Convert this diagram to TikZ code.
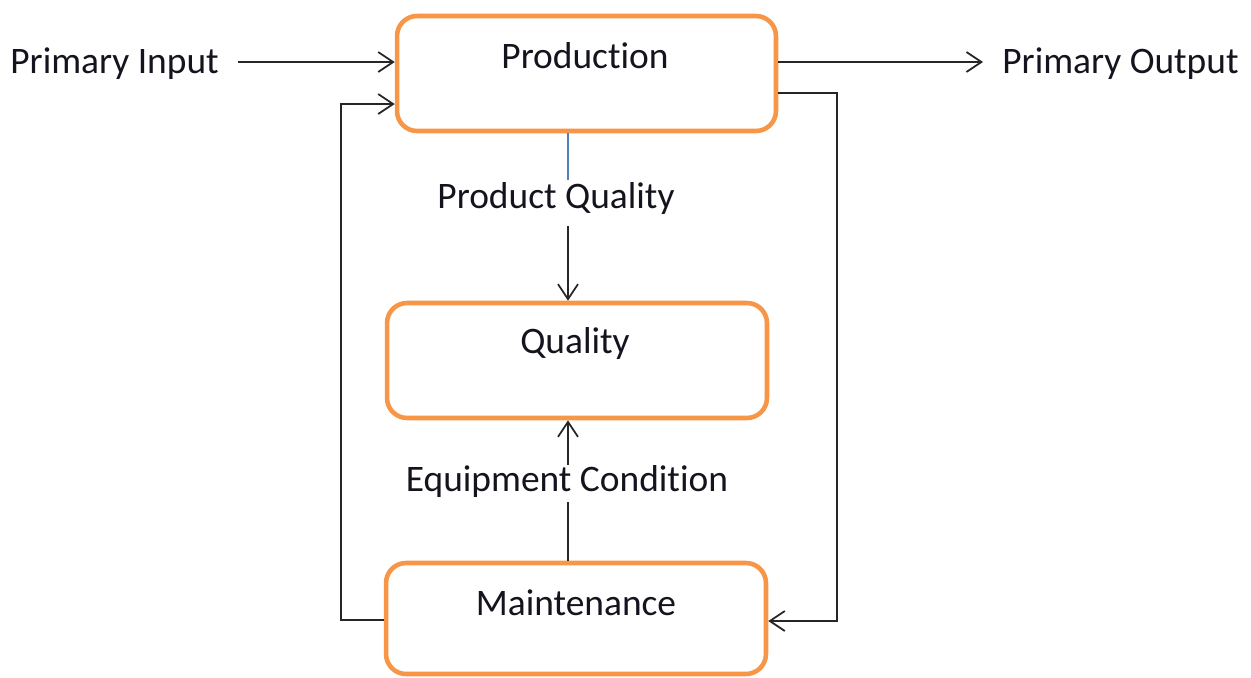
\documentclass[tikz,border=0pt]{standalone}
\usepackage{fontspec}
\setmainfont{Carlito}[RawFeature=-liga]
\usetikzlibrary{arrows.meta}
\definecolor{boxorange}{RGB}{247,150,70}
\definecolor{linkblue}{RGB}{79,129,189}
\definecolor{textdark}{RGB}{20,20,30}
\tikzset{
  stage/.style={draw=boxorange, line width=2.6pt, rounded corners=0.4cm,
    fill=white, inner sep=0pt},
  lbl/.style={inner sep=0pt, text=textdark,
    font=\fontsize{21.3}{25}\selectfont},
  arr/.style={draw=black!85, line width=1pt,
    -{Straight Barb[length=0.3cm,width=0.4cm,line width=1pt]}},
  plain/.style={draw=black!85, line width=1pt},
  bluelink/.style={draw=linkblue, line width=0.8pt},
}
\begin{document}
\begin{tikzpicture}[x=0.02cm, y=-0.02cm]
  \useasboundingbox (0,0) rectangle (1251,677);

  % process boxes
  \node[stage, minimum width=7.58cm, minimum height=2.3cm] (prod) at (586.5,73.5) {};
  \node[stage, minimum width=7.6cm, minimum height=2.3cm] (qual) at (577,360.5) {};
  \node[stage, minimum width=7.6cm, minimum height=2.22cm] (maint) at (576,618.5) {};

  % box captions
  \node[lbl, anchor=base] (prodT) at (585,68) {Production};
  \node[lbl, anchor=base] (qualT) at (575,353) {Quality};
  \node[lbl, anchor=base] (maintT) at (576,615) {Maintenance};

  % outside labels
  \node[lbl, anchor=base west] (pin) at (10,73) {Primary Input};
  \node[lbl, anchor=base west] (pout) at (1002,73) {Primary Output};
  \node[lbl, anchor=base] (pq) at (556,208) {Product Quality};
  \node[lbl, anchor=base] (ec) at (567,491) {Equipment Condition};

  % routing rows and columns
  \coordinate (rowMain) at (0,62);
  \coordinate (rowFbIn) at (0,104);
  \coordinate (rowFbOut) at (0,93);
  \coordinate (rowMaintR) at (0,621);
  \coordinate (rowMaintL) at (0,620);
  \coordinate (colL) at (341,0);
  \coordinate (colR) at (837,0);
  \coordinate (colC) at (568,0);

  % main flow
  \draw[arr, shorten <=0.38cm] (pin.east |- rowMain) -- (prod.west |- rowMain);
  \draw[arr, shorten >=0.38cm] (prod.east |- rowMain) -- (pout.west |- rowMain);

  % feedback loops
  \draw[arr] (prod.east |- rowFbOut) -| (colR |- rowMaintR) -- (maint.east |- rowMaintR);
  \draw[arr] (maint.west |- rowMaintL) -| (colL |- rowFbIn) -- (prod.west |- rowFbIn);

  % product quality link
  \draw[bluelink] (colC |- prod.south) -- (colC |- 0,180);
  \draw[arr] (colC |- 0,226) -- (colC |- qual.north);

  % equipment condition link
  \draw[plain] (colC |- maint.north) -- (colC |- 0,502);
  \draw[arr] (colC |- 0,465) -- (colC |- qual.south);
\end{tikzpicture}
\end{document}
